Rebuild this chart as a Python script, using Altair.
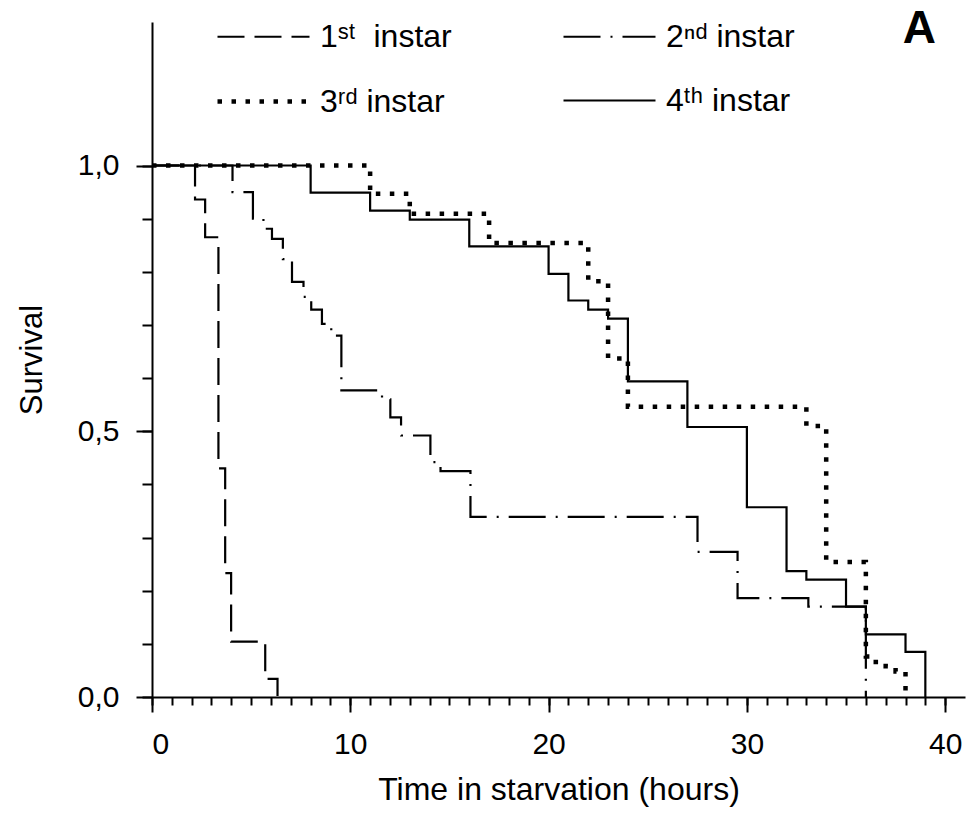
import altair as alt
import pandas as pd

FONT = "Liberation Sans"

series_names = ["1ˢᵗ\u00a0 instar", "2ⁿᵈ instar", "3ʳᵈ instar", "4ᵗʰ instar"]

# 1st instar (dashed)
t1 = [0, 2.17, 2.68, 3.35, 3.69, 3.99, 5.71, 6.33]
s1 = [1.0, 0.936, 0.865, 0.43, 0.233, 0.104, 0.034, 0.0]

# 2nd instar (dash-dot)
t2 = [0, 4.06, 5.09, 5.62, 6.05, 6.60, 7.06, 7.64, 8.03, 8.57, 9.04, 9.55,
      11.6, 12.02, 12.56, 14.04, 14.55, 16.06, 27.51, 29.53, 33.1, 36.0]
s2 = [1.0, 0.950, 0.900, 0.881, 0.862, 0.824, 0.781, 0.753, 0.729, 0.702, 0.680, 0.577,
      0.560, 0.526, 0.492, 0.442, 0.425, 0.339, 0.273, 0.186, 0.170, 0.0]

# 3rd instar (dotted)
t3 = [0, 11, 13, 17, 22, 23, 24, 33, 34, 36, 36.5, 37.0, 37.5, 38]
s3 = [1.0, 0.947, 0.909, 0.854, 0.782, 0.637, 0.546, 0.510, 0.254, 0.076, 0.066, 0.058, 0.048, 0.0]

# 4th instar (solid)
t4 = [0, 8, 11, 13, 16, 20, 21, 22, 23, 24, 27, 30, 32, 33, 35, 36, 38, 39]
s4 = [1.0, 0.949, 0.915, 0.898, 0.848, 0.796, 0.746, 0.729, 0.712, 0.594, 0.508,
      0.357, 0.237, 0.221, 0.170, 0.118, 0.085, 0.0]

x_major = [0, 10, 20, 30, 40]
x_minor = list(range(0, 41))
y_major = [0.0, 0.5, 1.0]
y_minor = [round(i * 0.1, 1) for i in range(0, 11)]

dash_patterns = [[27, 10], [37, 10, 2, 10], [4.5, 9.5], [1, 0]]
line_widths = [2.2, 2.2, 4.5, 2.2]

# legend fills column by column: order so rows read 1st/2nd and 3rd/4th
legend_order = [0, 2, 1, 3]
domain = [series_names[i] for i in legend_order]
dash_range = [dash_patterns[i] for i in legend_order]
width_range = [line_widths[i] for i in legend_order]

rows = []
for name, ts, ss in zip(series_names, [t1, t2, t3, t4], [s1, s2, s3, s4]):
    for t, s in zip(ts, ss):
        rows.append({"series": name, "time": t, "survival": s})
df = pd.DataFrame(rows)

xscale = alt.Scale(domain=[0, 41], nice=False, zero=False)
yscale = alt.Scale(domain=[0, 1.27], nice=False, zero=False)

legend = alt.Legend(
    orient="none", legendX=63, legendY=-33, columns=2, title=None,
    symbolType="stroke", symbolSize=92 * 92, symbolStrokeColor="black",
    labelFont=FONT, labelFontSize=32, labelColor="black", labelOffset=8,
    columnPadding=107, rowPadding=0, padding=0, labelLimit=400,
)

minor = alt.Chart(df).mark_line(opacity=0).encode(
    x=alt.X("time:Q", scale=xscale,
            axis=alt.Axis(values=x_minor, tickSize=8, labels=False, domain=False,
                          title=None, orient="bottom")),
    y=alt.Y("survival:Q", scale=yscale,
            axis=alt.Axis(values=y_minor, tickSize=10, labels=False, domain=False,
                          title=None, orient="left")),
    detail="series:N",
)

main = alt.Chart(df).mark_line(interpolate="step-after", color="black", strokeCap="butt").encode(
    x=alt.X("time:Q", scale=xscale,
            axis=alt.Axis(values=x_major, tickSize=15, labelPadding=17,
                          title="Time in starvation (hours)", titlePadding=15,
                          titleFontSize=32, orient="bottom", format="d")),
    y=alt.Y("survival:Q", scale=yscale,
            axis=alt.Axis(values=y_major, tickSize=16, labelPadding=17,
                          labelExpr="replace(format(datum.value, '.1f'), '.', ',')",
                          title="Survival", titlePadding=29, orient="left")),
    strokeDash=alt.StrokeDash("series:N",
                              scale=alt.Scale(domain=domain, range=dash_range),
                              legend=legend),
    strokeWidth=alt.StrokeWidth("series:N",
                                scale=alt.Scale(type="ordinal", domain=domain, range=width_range),
                                legend=legend),
)

chart = alt.layer(minor, main).resolve_axis(x="independent", y="independent").properties(
    width=813, height=675,
    autosize=alt.AutoSizeParams(type="none"),
    padding={"left": 152, "top": 22, "right": 13, "bottom": 117},
    title=alt.TitleParams("A", anchor="end", frame="group", orient="top",
                          fontSize=46, fontWeight="bold", font=FONT, color="black",
                          baseline="alphabetic", offset=0, dx=-29, dy=100),
).configure_view(stroke=None).configure_axis(
    grid=False, domainColor="black", domainWidth=2, tickColor="black", tickWidth=2,
    labelColor="black", titleColor="black", labelFont=FONT, titleFont=FONT,
    labelFontSize=30, titleFontSize=31, titleFontWeight="normal",
)

chart.save("out.html", embed_options={"renderer": "svg", "actions": False})
